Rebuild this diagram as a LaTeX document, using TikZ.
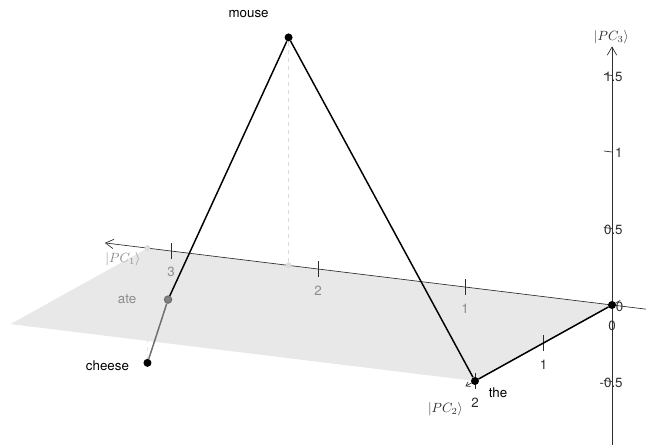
\documentclass[tikz,border=0pt]{standalone}
\usepackage{fontspec}
\setmainfont{TeX Gyre Heros}
\usepackage{amsmath}
\usetikzlibrary{arrows.meta}
\definecolor{planeGray}{RGB}{232,232,232}
\definecolor{tickGray}{RGB}{140,140,140}
\definecolor{axGray}{RGB}{45,45,45}
\definecolor{projGray}{RGB}{220,220,220}
\definecolor{ateGray}{RGB}{110,110,110}

\begin{document}
\begin{tikzpicture}[x={(-110.25pt,13.5pt)}, y={(-51.375pt,-28.5pt)}, z={(0pt,114.75pt)},
  word/.style={circle, fill=black, inner sep=0pt, minimum size=6pt},
  proj/.style={circle, fill=projGray, inner sep=0pt, minimum size=4.5pt},
  axisline/.style={axGray, line width=0.5pt},
  wordedge/.style={black, line width=1.1pt},
  wordlabel/.style={text=black}]
\useasboundingbox (-459pt,-105pt) rectangle (25.5pt,228.75pt);

% plane spanned by PC1 and PC2
\fill[planeGray] (0,0,0) -- (3.16,0,0) -- (3.16,2,0) -- (0,2,0) -- cycle;

% axes
\coordinate (pc1s) at (-0.23,0,0);
\coordinate (pc1e) at (3.45,0,0);
\coordinate (pc2s) at (0,-0.12,0);
\coordinate (pc2e) at (0,2.14,0);
\coordinate (pc3s) at (0,0,-0.92);
\coordinate (pc3e) at (0,0,1.69);
\draw[axisline, -{Straight Barb[length=6pt,width=7pt]}] (pc1s) -- (pc1e);
\draw[axisline, -{Straight Barb[length=3pt,width=4pt]}] (pc2s) -- (pc2e);
\draw[axisline, -{Straight Barb[length=6pt,width=7pt]}] (pc3s) -- (pc3e);
\node[text=tickGray, xshift=13.5pt, yshift=-12.5pt] (lab1) at (pc1e) {$|PC_1\rangle$};
\node[text=axGray, xshift=-15pt, yshift=-17pt] (lab2) at (pc2e) {$|PC_2\rangle$};
\node[text=axGray, xshift=-0.5pt, yshift=7pt] (lab3) at (pc3e) {$|PC_3\rangle$};

% ticks
\foreach \t in {1,2,3} {
  \draw[axisline] (\t,0,-0.05) -- (\t,0,0.05);
  \node[text=tickGray, yshift=-16pt] (tx\t) at (\t,0,0) {\t};
}
\foreach \t in {1,2} {
  \draw[axisline] (0,\t,-0.05) -- (0,\t,0.05);
  \node[text=axGray, yshift=-16.5pt] (ty\t) at (0,\t,0) {\t};
}
\foreach \t/\n in {-0.5/a,0.5/b,1/c,1.5/d} {
  \draw[axisline] (0.055,0,\t) -- (0,0,\t);
  \node[text=axGray, anchor=east, xshift=11.5pt, yshift=-0.75pt] (tz\n) at (0,0,\t) {\t};
}
\node[text=axGray, anchor=east, xshift=12pt, yshift=-1.5pt] (tz0) at (0,0,0) {0};
\node[text=axGray, yshift=-15.75pt] (tx0) at (0,0,0) {0};

% word vectors
\node[proj] (mouseP) at (2.2,0,0) {};
\node[proj] (cheeseP) at (3.16,0,0) {};
\draw[projGray, dashed] (mouseP) -- (2.2,0,1.49);
\draw[projGray!70, dashed] (cheeseP) -- (3.16,0,-0.75);
\node[word] (mouse) at (2.2,0,1.49) {};
\node[word] (the) at (0,2,0) {};
\node[word] (orig) at (0,0,0) {};
\node[word, fill=gray, draw=ateGray, line width=0.8pt, minimum size=5.5pt] (ate) at (3.02,0,-0.32) {};
\node[word] (cheese) at (3.16,0,-0.75) {};

\draw[wordedge, ateGray] (cheese) -- (ate);
\draw[wordedge] (ate) -- (mouse) -- (the) -- (orig);

\node[wordlabel, xshift=-30pt, yshift=17.25pt] (mouseL) at (mouse) {mouse};
\node[wordlabel, xshift=17.25pt, yshift=-9pt] (theL) at (the) {the};
\node[wordlabel, text=tickGray, xshift=-30.75pt] (ateL) at (ate) {ate};
\node[wordlabel, xshift=-30pt, yshift=-2.25pt] (cheeseL) at (cheese) {cheese};
\end{tikzpicture}
\end{document}
